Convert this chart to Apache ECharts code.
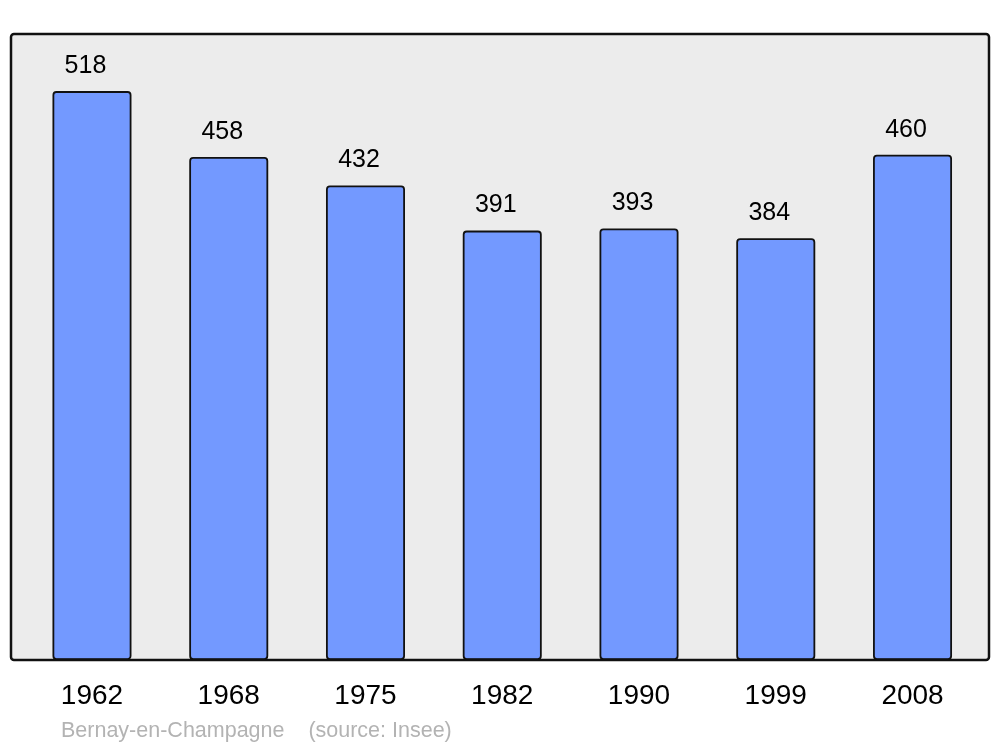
<!DOCTYPE html>
<html>
<head>
<meta charset="utf-8">
<script src="https://cdn.jsdelivr.net/npm/echarts@6/dist/echarts.min.js"></script>
<style>html,body{margin:0;padding:0;background:#fff}#c{width:1000px;height:747px}</style>
</head>
<body>
<div id="c"></div>
<script>
const years = ['1962', '1968', '1975', '1982', '1990', '1999', '2008'];
const population = [518, 458, 432, 391, 393, 384, 460];
const footer = 'Bernay-en-Champagne    (source: Insee)';

const chart = echarts.init(document.getElementById('c'), null, {renderer: 'canvas'});
const font = '"Liberation Sans", Arial, sans-serif';
chart.setOption({
  animation: false,
  backgroundColor: '#ffffff',
  textStyle: {fontFamily: font},
  title: {
    text: footer,
    left: 56,
    top: 715,
    textStyle: {color: '#b3b3b3', fontSize: 21.5, fontWeight: 'normal', fontFamily: font}
  },
  graphic: [
    {type: 'rect', z: -10, shape: {x: 11, y: 34, width: 978, height: 626, r: 3},
     style: {fill: '#ececec', stroke: null}},
    {type: 'rect', z: 100, shape: {x: 11, y: 34, width: 978, height: 626, r: 3},
     style: {fill: null, stroke: '#111111', lineWidth: 2.5}}
  ],
  grid: {left: 23.6, right: 19.1, top: 34, bottom: 87, containLabel: false},
  xAxis: {
    type: 'category',
    data: years,
    axisLine: {show: false},
    axisTick: {show: false},
    splitLine: {show: false},
    axisLabel: {color: '#000', fontSize: 28, margin: 22, fontFamily: font}
  },
  yAxis: {
    type: 'value',
    min: 0,
    max: 570,
    show: false,
    splitLine: {show: false}
  },
  series: [{
    type: 'bar',
    data: population,
    barWidth: 79,
    itemStyle: {color: '#7399ff', borderColor: '#111111', borderWidth: 1.8, borderRadius: 3},
    label: {
      show: true,
      position: 'top',
      distance: 12.5,
      offset: [-6.5, 0],
      color: '#000',
      fontSize: 25,
      fontFamily: font
    }
  }]
});
</script>
</body>
</html>
